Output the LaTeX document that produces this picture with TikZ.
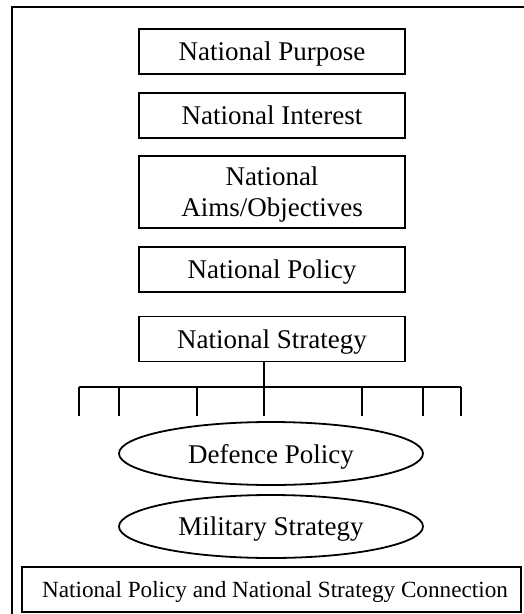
\documentclass[tikz,border=0pt]{standalone}
\usepackage{fontspec}
\setmainfont{Liberation Serif}
\usetikzlibrary{shapes.geometric}
\begin{document}
\begin{tikzpicture}[x=1pt,y=-1pt,
  txt/.style={font=\fontsize{27}{31}\selectfont, align=center, inner sep=0pt, text depth=0pt},
  levelbox/.style={txt, draw, line width=1.4pt, minimum width=266pt, minimum height=45pt},
  oval/.style={txt, draw, ellipse, line width=1.8pt, minimum width=304pt, minimum height=63pt},
  capbox/.style={txt, font=\fontsize{23.2}{27}\selectfont, draw, line width=2.2pt, minimum width=499pt, minimum height=45pt},
  branch/.style={line width=2pt}]
  \useasboundingbox (0,0) rectangle (524,614);
  % open frame: top and left sides
  \coordinate (frameTR) at (524,7);
  \coordinate (frameTL) at (12,7);
  \coordinate (frameBL) at (12,614);
  \draw[line width=2.6pt] (frameTR) -- (frameTL) -- (frameBL);

  % chain of national levels
  \node[levelbox] (purpose)  at (272,51.5)  {National Purpose};
  \node[levelbox] (interest) at (272,115.5) {National Interest};
  \node[levelbox, minimum height=72pt] (aims) at (272,192) {National\\Aims/Objectives};
  \node[levelbox] (policy)   at (272,269.5) {National Policy};
  \node[levelbox] (strategy) at (272,339)   {National Strategy};

  % branching bar below the strategy box
  \coordinate (bar)  at (264,387);
  \coordinate (barL) at (79,387);
  \coordinate (barR) at (461,387);
  \draw[branch] (strategy.south -| bar) -- (bar);
  \draw[branch] (barL) -- (barR);
  \foreach \tx [count=\i] in {79,119,197,264,362,423,461}{
    \coordinate (top\i) at (\tx,387);
    \coordinate (end\i) at (\tx,416);
    \draw[branch] (top\i) -- (end\i);
  }

  % policy ellipses
  \node[oval] (defence)  at (271,453.5) {Defence Policy};
  \node[oval] (military) at (271,526.5) {Military Strategy};

  % caption box, text set slightly right of centre
  \node[capbox] (caption) at (271.5,589.5) {\hspace*{7pt}National Policy and National Strategy Connection};
\end{tikzpicture}
\end{document}
